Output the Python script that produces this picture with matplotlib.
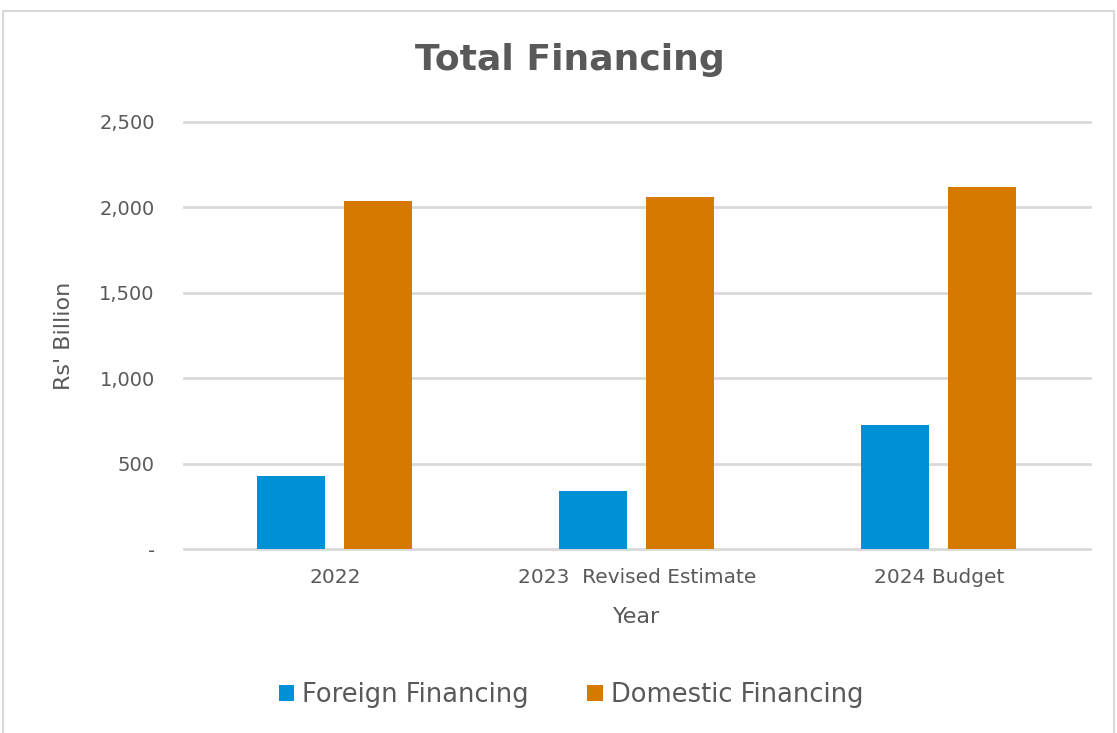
import numpy as np
import matplotlib.pyplot as plt
from matplotlib.patches import Rectangle

years = ["2022", "2023  Revised Estimate", "2024 Budget"]
foreign = [429, 340, 724]
domestic = [2035, 2059, 2119]
yticks = [0, 500, 1000, 1500, 2000, 2500]
ytick_labels = ["-", "500", "1,000", "1,500", "2,000", "2,500"]

blue = "#0090d5"
orange = "#d67900"
grey = "#595959"
grid = "#d9d9d9"

plt.rcParams["font.family"] = ["DejaVu Sans"]

fig = plt.figure(figsize=(11.17, 7.33), dpi=100)
fig.patches.append(Rectangle((0.003, -0.01), 0.994, 0.995, transform=fig.transFigure,
                             fill=False, edgecolor=grid, linewidth=1.5))

ax = fig.add_axes([0.1647, 0.251, 0.811, 0.5826])
x = np.arange(len(years))
w = 0.225
off = 0.144
ax.bar(x - off, foreign, w, color=blue, label="Foreign Financing", zorder=3)
ax.bar(x + off, domestic, w, color=orange, label="Domestic Financing", zorder=3)

ax.set_xlim(-0.5, 2.5)
ax.set_ylim(0, 2500)
ax.set_yticks(yticks)
ax.set_yticklabels(ytick_labels)
ax.set_xticks(x)
ax.set_xticklabels(years)
ax.grid(axis="y", color=grid, linewidth=2, zorder=0)
for gl in ax.get_ygridlines():
    gl.set_clip_on(False)
for s in ["top", "right", "left", "bottom"]:
    ax.spines[s].set_visible(False)
ax.tick_params(length=0, colors=grey)
ax.tick_params(axis="y", labelsize=14, pad=21)
ax.tick_params(axis="x", labelsize=14.5, pad=14)

ax.set_ylabel("Rs' Billion", color=grey, fontsize=16, labelpad=18)
ax.set_xlabel("Year", color=grey, fontsize=16, labelpad=14)

fig.text(0.5105, 0.918, "Total Financing", ha="center", va="center",
         fontsize=26, fontweight="bold", color=grey)

fig.legend(loc="center", bbox_to_anchor=(0.511, 0.052), ncol=2, frameon=False,
           fontsize=18.5, labelcolor=grey, handlelength=0.6, handleheight=0.6,
           handletextpad=0.3, columnspacing=2.3)

fig.savefig("out.png", dpi=100)
